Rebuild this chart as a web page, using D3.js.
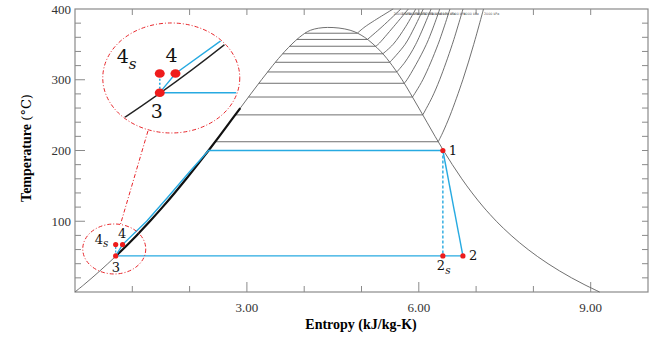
<!DOCTYPE html>
<html>
<head>
<meta charset="utf-8">
<script src="https://cdn.jsdelivr.net/npm/d3@7"></script>
<style>
  body { margin: 0; background: #fff; }
  svg { display: block; }
</style>
</head>
<body>
<svg id="chart" width="655" height="345"></svg>
<script>
// saturation table for water (T in C, s in kJ/kg-K)
const satT  = [0.01, 10, 20, 30, 40, 50, 60, 70, 80, 90, 100, 120, 140, 160, 180, 200, 220, 240, 260, 280, 300, 320, 340, 360, 370, 373.95];
const satSf = [0, 0.1511, 0.2965, 0.4368, 0.5724, 0.7038, 0.8313, 0.9551, 1.0756, 1.1929, 1.3072, 1.5279, 1.7392, 1.9426, 2.1392, 2.3305, 2.5177, 2.7020, 2.8849, 3.0685, 3.2552, 3.4494, 3.6601, 3.9167, 4.1112, 4.407];
const satSg = [9.1555, 8.8998, 8.6660, 8.4520, 8.2555, 8.0748, 7.9081, 7.7540, 7.6111, 7.4781, 7.3541, 7.1291, 6.9304, 6.7502, 6.5853, 6.4302, 6.2840, 6.1423, 6.0010, 5.8571, 5.7081, 5.5372, 5.3356, 5.0536, 4.8012, 4.407];

// isobars
const isoLabels = ["20000 kPa", "18000 kPa", "16000 kPa", "14000 kPa", "12000 kPa", "10000 kPa", "8000 kPa", "6000 kPa", "4000 kPa", "2000 kPa"];
const isoTsat = [365.75, 356.99, 347.36, 336.67, 324.68, 311.00, 295.01, 275.59, 250.35, 212.38];
const isoSf   = [4.0146, 3.8718, 3.7457, 3.6232, 3.4967, 3.3606, 3.2081, 3.0278, 2.7968, 2.4467];
// superheated part: [s, T] from saturated vapour up to 400 C
const isoSuper = [
  [[4.9270, 365.75], [5.0635, 375], [5.5526, 400]],
  [[5.1044, 356.99], [5.36, 375], [5.6874, 400]],
  [[5.2455, 347.36], [5.29, 350], [5.56, 375], [5.8176, 400]],
  [[5.3717, 336.67], [5.5515, 350], [5.77, 375], [5.9465, 400]],
  [[5.4939, 324.68], [5.7600, 350], [5.93, 375], [6.0775, 400]],
  [[5.6160, 311.00], [5.7596, 325], [5.9460, 350], [6.2141, 400]],
  [[5.7450, 295.01], [5.7937, 300], [6.1321, 350], [6.3658, 400]],
  [[5.8902, 275.59], [6.0703, 300], [6.3357, 350], [6.5432, 400]],
  [[6.0696, 250.35], [6.2312, 275], [6.3639, 300], [6.5843, 350], [6.7714, 400]],
  [[6.3390, 212.38], [6.4160, 225], [6.5475, 250], [6.7684, 300], [6.9583, 350], [7.1292, 400]]
];

// Rankine cycle states [s, T]
const st1  = [6.42, 200];
const st2s = [6.42, 51];
const st2  = [6.77, 51];
const st3  = [0.71, 51];
const st4s = [0.71, 67];
const st4  = [0.83, 67];
// boiler path from 4 to 1
const boilerPath = [st4, [1.25, 100], [1.63, 135], [2.00, 170], [2.33, 200], st1];

const xTicks = [3, 6, 9];
const yTicks = [100, 200, 300, 400];

const svg = d3.select("#chart");
const x = d3.scaleLinear().domain([0, 10]).range([75, 648]);
const y = d3.scaleLinear().domain([0, 400]).range([292, 9]);

const BLUE = "#27aae1", RED = "#ee1c1c", GRID = "#606060";
const line = d3.line().x(d => x(d[0])).y(d => y(d[1]));

// frame + ticks (inward)
const axisCol = "#8a8a8a";
svg.append("rect").attr("x", x(0)).attr("y", y(400)).attr("width", x(10) - x(0)).attr("height", y(0) - y(400))
  .attr("fill", "none").attr("stroke", axisCol).attr("stroke-width", 1.2);
const xt = d3.range(1, 10), yt = d3.range(20, 400, 20);
xt.forEach(v => {
  const L = xTicks.includes(v) ? 10 : 6;
  svg.append("line").attr("x1", x(v)).attr("x2", x(v)).attr("y1", y(0)).attr("y2", y(0) - L).attr("stroke", axisCol);
  svg.append("line").attr("x1", x(v)).attr("x2", x(v)).attr("y1", y(400)).attr("y2", y(400) + 6).attr("stroke", axisCol);
});
yt.forEach(v => {
  const L = yTicks.includes(v) ? 10 : 6;
  svg.append("line").attr("y1", y(v)).attr("y2", y(v)).attr("x1", x(0)).attr("x2", x(0) + L).attr("stroke", axisCol);
  svg.append("line").attr("y1", y(v)).attr("y2", y(v)).attr("x1", x(10)).attr("x2", x(10) - 6).attr("stroke", axisCol);
});
svg.selectAll(".xl").data(xTicks).join("text")
  .attr("x", d => x(d)).attr("y", 312).attr("text-anchor", "middle")
  .attr("font-family", "Liberation Serif").attr("font-size", 13).attr("fill", "#333")
  .text(d => d3.format(".2f")(d));
svg.selectAll(".yl").data(yTicks).join("text")
  .attr("x", 71).attr("y", d => y(d) + 4.5).attr("text-anchor", "end")
  .attr("font-family", "Liberation Serif").attr("font-size", 13).attr("fill", "#333")
  .text(d => d);

svg.append("text").attr("x", 361).attr("y", 329).attr("text-anchor", "middle")
  .attr("font-family", "Liberation Serif").attr("font-weight", "bold").attr("font-size", 14)
  .text("Entropy (kJ/kg-K)");
const yt2 = svg.append("text").attr("transform", "translate(31,148) rotate(-90)").attr("text-anchor", "middle")
  .attr("font-family", "Liberation Serif").attr("font-size", 14);
yt2.append("tspan").attr("font-weight", "bold").text("Temperature ");
yt2.append("tspan").attr("font-family", "DejaVu Serif").attr("font-size", 13).text("(°C)");

// saturation dome
const dome = satT.map((t, i) => [satSf[i], t]).concat(satT.slice(0, -1).map((t, i) => [satSg[i], t]).reverse());
svg.append("path").attr("d", line.curve(d3.curveCatmullRom)(dome))
  .attr("fill", "none").attr("stroke", GRID).attr("stroke-width", 0.9);

// isobars
isoTsat.forEach((t, i) => {
  svg.append("line").attr("x1", x(isoSf[i])).attr("x2", x(isoSuper[i][0][0]))
    .attr("y1", y(t)).attr("y2", y(t)).attr("stroke", GRID).attr("stroke-width", 0.9);
  svg.append("path").attr("d", line.curve(d3.curveCatmullRom)(isoSuper[i]))
    .attr("fill", "none").attr("stroke", GRID).attr("stroke-width", 0.9);
  const top = isoSuper[i][isoSuper[i].length - 1];
  svg.append("text").attr("x", x(top[0]) + 0.5).attr("y", y(top[1]) + 6)
    .attr("font-family", "DejaVu Sans").attr("font-size", 3.3).attr("fill", "#555")
    .text(isoLabels[i]);
});

// compressed liquid (thick)
const thick = satT.map((t, i) => [satSf[i], t]).filter(d => d[1] >= 50 && d[1] <= 260);
svg.append("path").attr("d", line.curve(d3.curveCatmullRom)(thick))
  .attr("fill", "none").attr("stroke", "#111").attr("stroke-width", 2.2);

// cycle
const lin = d3.line().x(d => x(d[0])).y(d => y(d[1]));
svg.append("path").attr("d", lin([st3, ...boilerPath])).attr("fill", "none").attr("stroke", BLUE).attr("stroke-width", 1.4);
svg.append("path").attr("d", lin([st1, st2])).attr("fill", "none").attr("stroke", BLUE).attr("stroke-width", 1.4);
svg.append("path").attr("d", lin([st2, st3])).attr("fill", "none").attr("stroke", BLUE).attr("stroke-width", 1.4);
svg.append("path").attr("d", lin([st1, st2s])).attr("fill", "none").attr("stroke", BLUE).attr("stroke-width", 1.4).attr("stroke-dasharray", "3,2");
svg.append("path").attr("d", lin([st3, st4s])).attr("fill", "none").attr("stroke", BLUE).attr("stroke-width", 1.2).attr("stroke-dasharray", "2,1.5");

const pts = [st1, st2s, st2, st3, st4s, st4];
svg.selectAll(".pt").data(pts).join("circle")
  .attr("cx", d => x(d[0])).attr("cy", d => y(d[1])).attr("r", 2.6).attr("fill", RED);

function lab(g, px, py, main, sub, size) {
  const t = g.append("text").attr("x", px).attr("y", py).attr("font-family", "DejaVu Serif").attr("font-size", size).attr("fill", "#111");
  t.append("tspan").text(main);
  if (sub) t.append("tspan").attr("font-style", "italic").attr("font-size", size * 0.8).attr("dy", size * 0.3).text(sub);
}
lab(svg, x(st1[0]) + 6, y(st1[1]) + 4.5, "1", null, 13);
lab(svg, x(st2[0]) + 6, y(st2[1]) + 4.5, "2", null, 13);
lab(svg, x(st2s[0]) - 6, y(st2s[1]) + 14, "2", "s", 13);
lab(svg, x(st3[0]) - 4, y(st3[1]) + 16, "3", null, 13);
lab(svg, x(st4s[0]) - 21, y(st4s[1]) - 1, "4", "s", 13);
lab(svg, x(st4[0]) - 4.5, y(st4[1]) - 7, "4", null, 13);

// zoom annotation
const red = g => g.attr("fill", "none").attr("stroke", "#e8262b").attr("stroke-width", 1).attr("stroke-dasharray", "4,2,1,2");
red(svg.append("ellipse").attr("cx", x(0.685)).attr("cy", y(60.8)).attr("rx", 31.5).attr("ry", 25));
red(svg.append("line").attr("x1", x(1.273)).attr("y1", y(227.6)).attr("x2", x(0.785)).attr("y2", y(93.3)));
const icx = x(1.68), icy = y(302.5), irx = 68.5, iry = 55;
svg.append("ellipse").attr("cx", icx).attr("cy", icy).attr("rx", irx).attr("ry", iry).attr("fill", "#fff");
red(svg.append("ellipse").attr("cx", icx).attr("cy", icy).attr("rx", irx).attr("ry", iry));

// inset: magnified region around the pump
const xi = d3.scaleLinear().domain([st3[0], st4[0]]).range([icx - 11.5, icx + 4.2]);
const yi = d3.scaleLinear().domain([st3[1], st4[1]]).range([icy + 14.7, icy - 4.5]);
svg.append("clipPath").attr("id", "ic").append("ellipse").attr("cx", icx).attr("cy", icy).attr("rx", irx - 1).attr("ry", iry - 1);
const inset = svg.append("g").attr("clip-path", "url(#ic)");
const il = d3.line().x(d => xi(d[0])).y(d => yi(d[1]));
inset.append("path").attr("d", il.curve(d3.curveCatmullRom)(satT.map((t, i) => [satSf[i], t]).filter(d => d[1] < 160)))
  .attr("fill", "none").attr("stroke", "#222").attr("stroke-width", 1.3);
const il2 = d3.line().x(d => xi(d[0])).y(d => yi(d[1]));
inset.append("path").attr("d", il2([st3, ...boilerPath])).attr("fill", "none").attr("stroke", BLUE).attr("stroke-width", 1.4);
inset.append("path").attr("d", il2([st3, st2])).attr("fill", "none").attr("stroke", BLUE).attr("stroke-width", 1.4);
inset.append("path").attr("d", il2([st3, st4s])).attr("fill", "none").attr("stroke", BLUE).attr("stroke-width", 1.6).attr("stroke-dasharray", "2,2");
inset.selectAll(".ip").data([st3, st4s, st4]).join("ellipse")
  .attr("cx", d => xi(d[0])).attr("cy", d => yi(d[1])).attr("rx", 5).attr("ry", 4.3).attr("fill", RED);
lab(svg, xi(st4s[0]) - 43, yi(st4s[1]) - 10, "4", "s", 19);
lab(svg, xi(st4[0]) - 10, yi(st4[1]) - 11, "4", null, 19);
lab(svg, xi(st3[0]) - 9, yi(st3[1]) + 25, "3", null, 19);
</script>
</body>
</html>
